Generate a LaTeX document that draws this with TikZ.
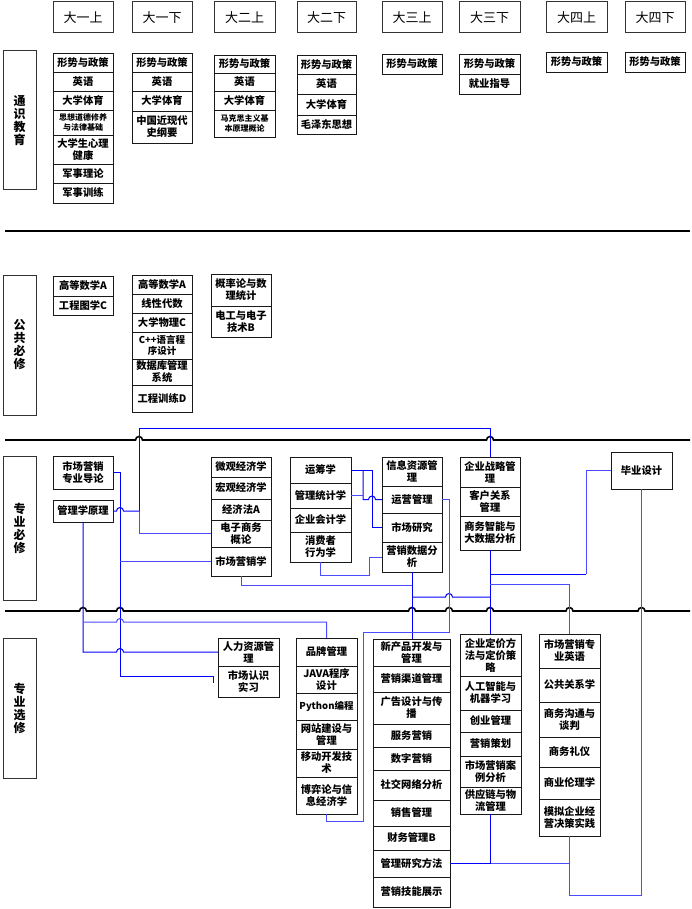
\documentclass[tikz,border=0pt]{standalone}
\usepackage{fontspec}
\newfontfamily\cjk{Noto Sans CJK SC}
\definecolor{cblue}{RGB}{0,0,255}
\definecolor{lblue}{RGB}{75,75,255}
\tikzset{
  cbox/.style={draw=black!90, line width=0.9pt, inner sep=0pt, outer sep=0pt, align=center,
    font=\cjk\bfseries\fontsize{10.3}{12}\selectfont},
  tinytext/.style={font=\cjk\bfseries\fontsize{8}{9.5}\selectfont},
  smalltext/.style={font=\cjk\bfseries\fontsize{9.5}{11.5}\selectfont},
  hbox/.style={draw=black!80, line width=1pt, inner sep=0pt, outer sep=0pt,
    font=\cjk\fontsize{13}{15}\selectfont},
  sbox/.style={draw=black!80, line width=1pt, inner sep=0pt, outer sep=0pt, align=center,
    font=\cjk\bfseries\fontsize{12}{13}\selectfont},
  bline/.style={line width=1.6pt, black},
  conn/.style={line width=1pt, cblue},
  connl/.style={line width=1pt, lblue},
}
\newcommand\cbx[7][]{\node[cbox,#1,anchor=north west,minimum width={(#5-#3)*1pt},minimum height={(#6-#4)*1pt}] (#2) at (#3,#4) {#7};}
\newcommand\hbx[6]{\node[hbox,anchor=north west,minimum width={(#4-#2)*1pt},minimum height={(#5-#3)*1pt}] (#1) at (#2,#3) {#6};}
\newcommand\sbx[6]{\node[sbox,anchor=north west,minimum width={(#4-#2)*1pt},minimum height={(#5-#3)*1pt}] (#1) at (#2,#3) {#6};}
\begin{document}
\begin{tikzpicture}[x=1pt,y=-1pt]
\useasboundingbox[fill=white] (0,0) rectangle (692,909);
% headers
\hbx{h1}{53}{2}{113}{33}{大一上}
\hbx{h2}{132}{2}{192}{33}{大一下}
\hbx{h3}{214}{2}{275}{33}{大二上}
\hbx{h4}{297}{2}{356}{33}{大二下}
\hbx{h5}{382}{2}{442}{33}{大三上}
\hbx{h6}{459}{2}{520}{33}{大三下}
\hbx{h7}{546}{2}{607}{33}{大四上}
\hbx{h8}{625}{2}{685}{33}{大四下}
% side labels
\sbx{sTS}{3}{51}{36}{190}{通\\识\\教\\育}
\sbx{sGG}{3}{275}{36}{415}{公\\共\\必\\修}
\sbx{sZB}{3}{456}{36}{600}{专\\业\\必\\修}
\sbx{sZX}{3}{638}{36}{778}{专\\业\\选\\修}
% section lines
\draw[bline] (5,231) -- (690,231);
\draw[bline] (5,440) -- (135.5,440) arc[start angle=180,end angle=360,radius=3.5] -- (486.5,440) arc[start angle=180,end angle=360,radius=3.5] -- (690,440);
\draw[bline] (5,611) -- (79.5,611) arc[start angle=180,end angle=360,radius=3.5]
  -- (116.5,611) arc[start angle=180,end angle=360,radius=3.5]
  -- (408.5,611) arc[start angle=180,end angle=360,radius=3.5]
  -- (445.5,611) arc[start angle=180,end angle=360,radius=3.5]
  -- (486.5,611) arc[start angle=180,end angle=360,radius=3.5]
  -- (566,611) arc[start angle=180,end angle=360,radius=3.5]
  -- (638,611) arc[start angle=180,end angle=360,radius=3.5] -- (690,611);
% general education
\cbx{tsA1}{53}{53}{113}{72}{形势与政策}
\cbx{tsA2}{53}{72}{113}{91}{英语}
\cbx{tsA3}{53}{91}{113}{110}{大学体育}
\cbx[tinytext]{tsA4}{53}{110}{113}{135}{思想道德修养\\与法律基础}
\cbx{tsA5}{53}{135}{113}{164}{大学生心理\\健康}
\cbx{tsA6}{53}{164}{113}{183}{军事理论}
\cbx{tsA7}{53}{183}{113}{203}{军事训练}
\cbx{tsB1}{132}{53}{192}{72}{形势与政策}
\cbx{tsB2}{132}{72}{192}{91}{英语}
\cbx{tsB3}{132}{91}{192}{111}{大学体育}
\cbx{tsB4}{132}{111}{192}{143}{中国近现代\\史纲要}
\cbx{tsC1}{214}{55}{275}{73}{形势与政策}
\cbx{tsC2}{214}{73}{275}{91}{英语}
\cbx{tsC3}{214}{91}{275}{110}{大学体育}
\cbx[tinytext]{tsC4}{214}{110}{275}{137}{马克思主义基\\本原理概论}
\cbx{tsD1}{297}{55}{356}{74}{形势与政策}
\cbx{tsD2}{297}{74}{356}{94}{英语}
\cbx{tsD3}{297}{94}{356}{115}{大学体育}
\cbx{tsD4}{297}{115}{356}{134}{毛泽东思想}
\cbx{tsE1}{382}{54}{442}{74}{形势与政策}
\cbx{tsF1}{459}{54}{520}{74}{形势与政策}
\cbx{tsF2}{459}{74}{520}{94}{就业指导}
\cbx{tsG1}{546}{52}{607}{72}{形势与政策}
\cbx{tsH1}{625}{52}{685}{72}{形势与政策}
% public required
\cbx{ggA1}{53}{276}{113}{296}{高等数学A}
\cbx{ggA2}{53}{296}{113}{315}{工程图学C}
\cbx{ggB1}{132}{275}{192}{294}{高等数学A}
\cbx{ggB2}{132}{294}{192}{313}{线性代数}
\cbx{ggB3}{132}{313}{192}{332}{大学物理C}
\cbx[smalltext]{ggB4}{132}{332}{192}{359}{C++语言程\\序设计}
\cbx{ggB5}{132}{359}{192}{385}{数据库管理\\系统}
\cbx{ggB6}{132}{385}{192}{412}{工程训练D}
\cbx{ggC1}{211}{274}{271}{306}{概率论与数\\理统计}
\cbx{ggC2}{211}{306}{271}{337}{电工与电子\\技术B}
% major required
\cbx{dl}{53}{456}{113}{489}{市场营销\\专业导论}
\cbx{gl}{53}{500}{113}{522}{管理学原理}
\cbx{wg}{211}{457}{271}{477}{微观经济学}
\cbx{hg}{211}{477}{271}{499}{宏观经济学}
\cbx{jjf}{211}{499}{271}{520}{经济法A}
\cbx{dz}{211}{520}{271}{547}{电子商务\\概论}
\cbx{yx}{211}{547}{271}{576}{市场营销学}
\cbx{yc}{290}{457}{351}{483}{运筹学}
\cbx{gt}{290}{483}{351}{508}{管理统计学}
\cbx{kj}{290}{508}{351}{532}{企业会计学}
\cbx{xf}{290}{532}{351}{562}{消费者\\行为学}
\cbx{xx}{382}{457}{442}{486}{信息资源管\\理}
\cbx{yy}{382}{486}{442}{513}{运营管理}
\cbx{sy}{382}{513}{442}{542}{市场研究}
\cbx{sj}{382}{542}{442}{572}{营销数据分\\析}
\cbx{zl}{460}{457}{520}{487}{企业战略管\\理}
\cbx{kh}{460}{487}{520}{516}{客户关系\\管理}
\cbx{bi}{460}{516}{520}{550}{商务智能与\\大数据分析}
\cbx{by}{611}{452}{672}{489}{毕业设计}
% electives
\cbx{rl}{218}{638}{279}{666}{人力资源管\\理}
\cbx{rs}{218}{666}{279}{697}{市场认识\\实习}
\cbx{pp}{296}{638}{357}{666}{品牌管理}
\cbx{java}{296}{666}{357}{693}{JAVA程序\\设计}
\cbx[smalltext]{py}{296}{693}{357}{720}{Python编程}
\cbx{wz}{296}{720}{357}{749}{网站建设与\\管理}
\cbx{yd}{296}{749}{357}{777}{移动开发技\\术}
\cbx{bo}{296}{777}{357}{814}{博弈论与信\\息经济学}
\cbx{xcp}{373}{639}{450}{666}{新产品开发与\\管理}
\cbx{qd}{373}{666}{450}{692}{营销渠道管理}
\cbx{ad}{373}{692}{450}{724}{广告设计与传\\播}
\cbx{fw}{373}{724}{450}{747}{服务营销}
\cbx{sz}{373}{747}{450}{770}{数字营销}
\cbx{sn}{373}{770}{450}{800}{社交网络分析}
\cbx{xs}{373}{800}{450}{826}{销售管理}
\cbx{cw}{373}{826}{450}{850}{财务管理B}
\cbx{yf}{373}{850}{450}{877}{管理研究方法}
\cbx{jn}{373}{877}{450}{907}{营销技能展示}
\cbx{dj}{460}{634}{521}{676}{企业定价方\\法与定价策\\略}
\cbx{ai}{460}{676}{521}{710}{人工智能与\\机器学习}
\cbx{cy}{460}{710}{521}{732}{创业管理}
\cbx{ch}{460}{732}{521}{756}{营销策划}
\cbx{al}{460}{756}{521}{787}{市场营销案\\例分析}
\cbx{gyl}{460}{787}{521}{814}{供应链与物\\流管理}
\cbx{en}{539}{634}{600}{668}{市场营销专\\业英语}
\cbx{gx}{539}{668}{600}{702}{公共关系学}
\cbx{gtp}{539}{702}{600}{737}{商务沟通与\\谈判}
\cbx{ly}{539}{737}{600}{767}{商务礼仪}
\cbx{ll}{539}{767}{600}{799}{商业伦理学}
\cbx{mn}{539}{799}{600}{836}{模拟企业经\\营决策实践}
% connectors
\coordinate (rsend) at (213,683);
\draw[conn] (gl.east) -- (116.5,511) arc[start angle=180,end angle=360,radius=3.5] -- (139,511);
\draw[connl] (139,511) |- (dz.west);
\draw[conn] (139,511) -- (139,428) -| (zl.north);
\draw[conn] (dl.east) -| (120,676) -- (213,676) -- (rsend);
\draw[connl] (120,561.5) -- (yx.west);
\draw[conn] (gl.south) -- (83,652) -- (116.5,652) arc[start angle=180,end angle=360,radius=3.5] -- (rl.west);
\draw[connl] (83,622) -- (116.5,622) arc[start angle=180,end angle=360,radius=3.5] -- (326.5,622) -- (pp.north);
\draw[connl] (yx.south) -- (241,585) -- (412,585);
\draw[conn] (sj.south) -- (sj.south |- xcp.north);
\draw[conn] (412,597) -- (445.5,597) arc[start angle=180,end angle=360,radius=3.5] -- (490,597);
\draw[connl] (yy.east) -- (449,499.5) -- (449,632) -- (363,632) -- (363,821) -- (326.5,821) -- (bo.south);
\draw[conn] (yc.east) -- (372,470) -- (372,527.5) -- (sy.west);
\draw[conn] (363,470) -- (363,499.5) -- (368.5,499.5) arc[start angle=180,end angle=360,radius=3.5] -- (yy.west);
\draw[connl] (gt.east) -- (363,495.5);
\draw[connl] (xf.south) -- (320.5,575) -- (369,575) -- (369,557) -- (sj.west);
\draw[conn] (bi.south) -- (bi.south |- dj.north);
\draw[conn] (490,574) -- (586,574);
\draw[connl] (586,574) -- (586,470.5) -- (by.west);
\draw[connl] (490,584) -- (569.5,584) -- (en.north);
\draw[connl] (by.south) -- (641.5,895) -- (569.5,895) -- (mn.south);
\draw[conn] (yf.east) -- (490.5,863.5) -- (gyl.south);
\draw[connl] (490.5,863.5) -- (569.5,863.5);
\end{tikzpicture}
\end{document}
